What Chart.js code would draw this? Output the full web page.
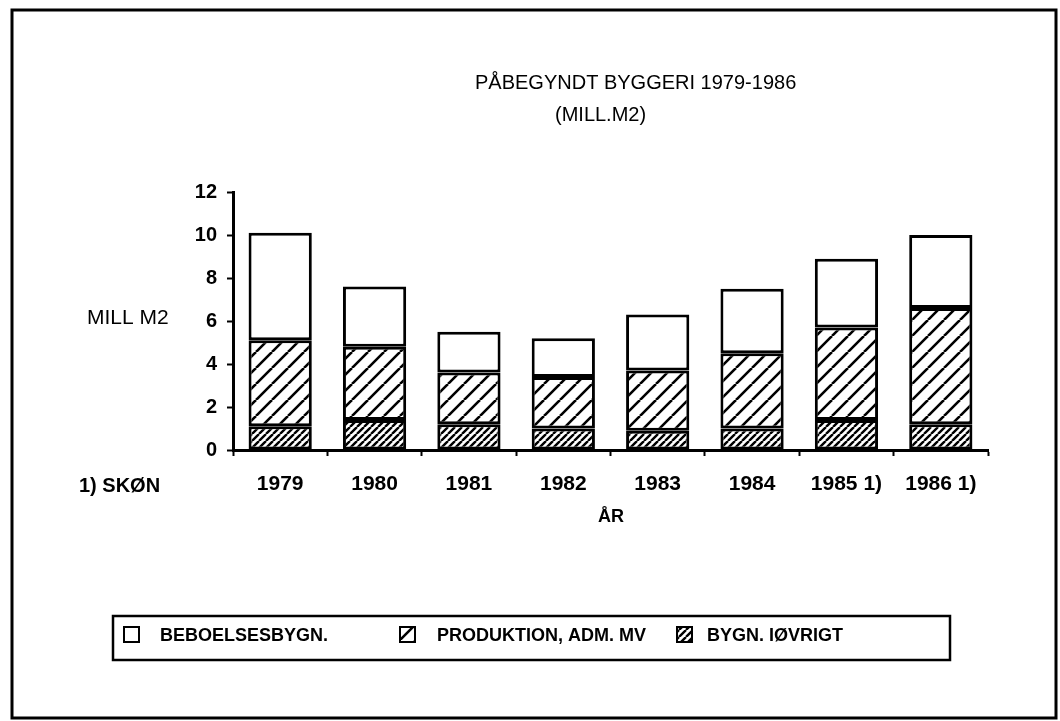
<!DOCTYPE html>
<html>
<head>
<meta charset="utf-8">
<script src="https://cdn.jsdelivr.net/npm/chart.js@4/dist/chart.umd.min.js"></script>
<style>
  html, body { margin: 0; padding: 0; background: #fff; }
  canvas { display: block; }
</style>
</head>
<body>
<canvas id="byggeri" width="1060" height="721"></canvas>
<script>
// Påbegyndt byggeri 1979-1986 (mill. m2)
const years = ['1979', '1980', '1981', '1982', '1983', '1984', '1985 1)', '1986 1)'];
const housing = [5.0, 2.8, 1.9, 1.8, 2.6, 3.0, 3.2, 3.4];       // beboelsesbygn.
const production = [4.0, 3.4, 2.4, 2.4, 2.8, 3.5, 4.3, 5.4];    // produktion, adm. mv
const other = [1.1, 1.4, 1.2, 1.0, 0.9, 1.0, 1.4, 1.2];         // bygn. iøvrigt
const seriesNames = ['BEBOELSESBYGN.', 'PRODUKTION, ADM. MV', 'BYGN. IØVRIGT'];
const yMin = 0, yMax = 12, yStep = 2;

const FONT = "'Liberation Sans', Arial, sans-serif";

function hatch(step, lw) {
    const c = document.createElement('canvas');
    c.width = c.height = step;
    const g = c.getContext('2d');
    g.fillStyle = '#fff';
    g.fillRect(0, 0, step, step);
    g.strokeStyle = '#000';
    g.lineWidth = lw;
    g.beginPath();
    [-step, 0, step].forEach(k => {
        g.moveTo(k, step);
        g.lineTo(k + step, 0);
    });
    g.stroke();
    return g.createPattern(c, 'repeat');
}

const ctx0 = document.getElementById('byggeri').getContext('2d');
const wideHatch = hatch(16, 2.6);
const denseHatch = hatch(7, 2.4);

// titles, side notes, legend box and frame
const decor = {
    id: 'decor',
    afterDraw(chart) {
        const ctx = chart.ctx;
        ctx.save();
        ctx.strokeStyle = '#000';
        ctx.fillStyle = '#000';
        ctx.lineWidth = 3;
        ctx.strokeRect(12, 10, 1044, 708);

        ctx.textBaseline = 'middle';
        ctx.textAlign = 'left';
        ctx.font = '20px ' + FONT;
        ctx.fillText('PÅBEGYNDT BYGGERI 1979-1986', 475, 83);
        ctx.fillText('(MILL.M2)', 555, 115);
        ctx.font = '21px ' + FONT;
        ctx.fillText('MILL M2', 87, 318);
        ctx.font = 'bold 20px ' + FONT;
        ctx.fillText('1) SKØN', 79, 486);
        ctx.font = 'bold 18px ' + FONT;
        ctx.fillText('ÅR', 598, 517);

        // legend
        ctx.lineWidth = 2.5;
        ctx.strokeRect(113, 616, 837, 44);
        const ds = chart.data.datasets.slice().reverse();
        const boxX = [124, 400, 677];
        const textX = [160, 437, 707];
        ctx.font = 'bold 18px ' + FONT;
        ds.forEach((d, i) => {
            ctx.fillStyle = d.backgroundColor;
            ctx.fillRect(boxX[i], 627, 15, 15);
            ctx.lineWidth = 2;
            ctx.strokeRect(boxX[i], 627, 15, 15);
            ctx.fillStyle = '#000';
            ctx.fillText(d.label, textX[i], 636);
        });
        ctx.restore();
    }
};

const common = { borderColor: '#000', borderWidth: 3, borderSkipped: false, barPercentage: 0.67, categoryPercentage: 1 };

new Chart(ctx0, {
    type: 'bar',
    data: {
        labels: years,
        datasets: [
            { label: seriesNames[2], data: other, backgroundColor: denseHatch, ...common },
            { label: seriesNames[1], data: production, backgroundColor: wideHatch, ...common },
            { label: seriesNames[0], data: housing, backgroundColor: '#fff', ...common }
        ]
    },
    options: {
        responsive: false,
        animation: false,
        layout: { padding: { left: 0, right: 72, top: 192, bottom: 191 } },
        plugins: { legend: { display: false }, tooltip: { enabled: false } },
        scales: {
            x: {
                stacked: true,
                afterFit: s => { s.height = 80; },
                grid: { drawOnChartArea: false, offset: true, tickLength: 6, tickColor: '#000', tickWidth: 2 },
                border: { color: '#000', width: 3 },
                ticks: { color: '#000', padding: 16, maxRotation: 0, autoSkip: false, font: { family: FONT, size: 21, weight: 'bold' } }
            },
            y: {
                stacked: true,
                min: yMin,
                max: yMax,
                afterFit: s => { s.width = 233; },
                grid: { drawOnChartArea: false, tickLength: 6, tickColor: '#000', tickWidth: 2 },
                border: { color: '#000', width: 3 },
                ticks: { stepSize: yStep, color: '#000', padding: 10, font: { family: FONT, size: 20, weight: 'bold' } }
            }
        }
    },
    plugins: [decor]
});
</script>
</body>
</html>
